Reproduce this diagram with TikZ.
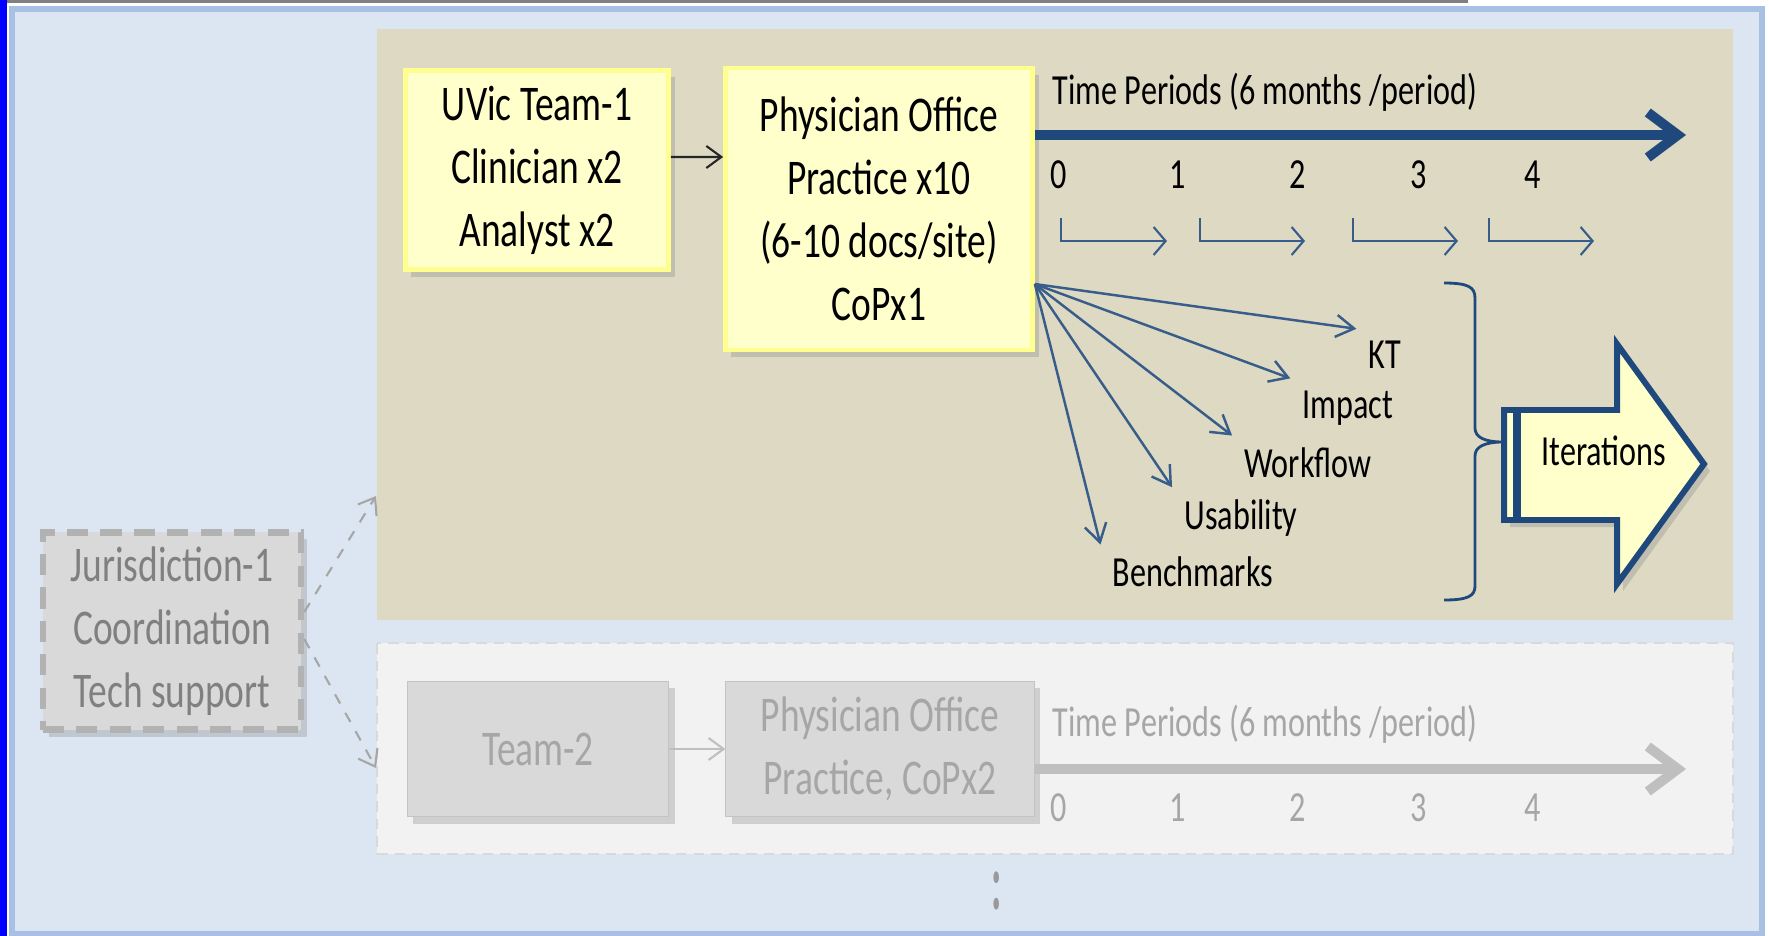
\documentclass[tikz,border=0pt]{standalone}
\usepackage{fontspec}
\setmainfont{Carlito}[FakeStretch=0.75]
\usetikzlibrary{shadows,arrows.meta}

\definecolor{panelblue}{HTML}{DCE6F2}
\definecolor{panelline}{HTML}{A7C0E3}
\definecolor{beige}{HTML}{DDD9C3}
\definecolor{paleyellow}{HTML}{FFFFCC}
\definecolor{yellowline}{HTML}{FFFF8F}
\definecolor{timeblue}{HTML}{1F497D}
\definecolor{fanblue}{HTML}{385D8A}
\definecolor{boxgray}{HTML}{D9D9D9}
\definecolor{textgray}{HTML}{A6A6A6}
\definecolor{lightpanel}{HTML}{F2F2F2}
\definecolor{framegray}{HTML}{808080}

\newcommand{\bigtxt}{\fontsize{14.2}{17.9}\selectfont}
\newcommand{\smalltxt}{\fontsize{12.2}{14.6}\selectfont}

\tikzset{
  boxshadow/.style={drop shadow={shadow xshift=0.06cm,shadow yshift=-0.07cm,opacity=0.3}},
  teambox/.style={draw=yellowline,line width=1.3pt,fill=paleyellow,align=center,font=\bigtxt,boxshadow},
  greybox/.style={draw=boxgray!90!black,line width=0.3pt,fill=boxgray,text=textgray,align=center,font=\bigtxt,boxshadow},
  lbl/.style={font=\smalltxt},
  timeline/.style={-{Straight Barb[length=0.3cm,width=0.45cm]},line width=2.8pt},
  hook/.style={-{Straight Barb[length=0.12cm,width=0.28cm]},fanblue,line width=0.6pt},
  fan/.style={-{Straight Barb[length=0.18cm,width=0.22cm]},fanblue,line width=0.7pt},
  thin/.style={-{Straight Barb[length=0.15cm,width=0.22cm]},line width=0.6pt}
}

\begin{document}
\begin{tikzpicture}[x=0.01cm,y=-0.01cm]
\useasboundingbox (0,0) rectangle (1769,936);
\fill[white] (0,0) rectangle (1769,936);
\fill[framegray] (0,0) rectangle (1468,3);
\draw[panelline,line width=1.5pt,fill=panelblue] (12,9) rectangle (1762,934);
\fill[blue] (0,0) rectangle (7,936);
\fill[beige] (377,29) rectangle (1733,620);
\draw[boxgray,line width=0.6pt,dash pattern=on 3pt off 2pt,fill=lightpanel] (377,643) rectangle (1733,854);

\node[greybox,draw=gray!60,line width=1.8pt,dash pattern=on 6pt off 3.5pt,text=gray,minimum width=2.58cm,minimum height=1.97cm] (jur) at (172,631) {Jurisdiction-1\\Coordination\\Tech support};
\coordinate (site1) at (376,496);
\coordinate (site2) at (376,768);
\draw[thin,textgray,dashed] ([yshift=0.19cm]jur.east) -- (site1);
\draw[thin,textgray,dashed] ([yshift=-0.08cm]jur.east) -- (site2);

\node[teambox,minimum width=2.63cm,minimum height=1.99cm] (uvic) at (537,170) {UVic Team-1\\Clinician x2\\Analyst x2};
\node[teambox,minimum width=3.07cm,minimum height=2.82cm] (phys) at (879,209) {Physician Office\\Practice x10\\(6-10 docs/site)\\CoPx1};
\draw[thin,black!85] ([yshift=0.13cm]uvic.east) -- ([yshift=0.52cm]phys.west);

\node[lbl] (tp) at (1265,92) {Time Periods (6 months /period)};
\coordinate (t1) at (1686,135);
\draw[timeline,timeblue] (phys.east |- t1) -- (t1);
\node[lbl] (n0) at (1059,175) {0};
\node[lbl] (n1) at (1178,175) {1};
\node[lbl] (n2) at (1298,175) {2};
\node[lbl] (n3) at (1419,175) {3};
\node[lbl] (n4) at (1533,175) {4};
\draw[hook] (1061,218) -- (1061,241) -- (1167,241);
\draw[hook] (1200,218) -- (1200,241) -- (1305,241);
\draw[hook] (1353,218) -- (1353,241) -- (1458,241);
\draw[hook] (1489,218) -- (1489,241) -- (1594,241);

\node[lbl] (kt) at (1385,355) {KT};
\node[lbl] (impact) at (1348,408) {Impact};
\node[lbl] (workflow) at (1308,463) {Workflow};
\node[lbl] (usability) at (1241,518) {Usability};
\node[lbl] (bench) at (1193,572) {Benchmarks};
\draw[fan] ([yshift=-0.75cm]phys.east) -- (kt.north west);
\draw[fan] ([yshift=-0.75cm]phys.east) -- (impact.north west);
\draw[fan] ([yshift=-0.75cm]phys.east) -- (workflow.north west);
\draw[fan] ([yshift=-0.75cm]phys.east) -- (usability.north west);
\draw[fan] ([yshift=-0.75cm]phys.east) -- (bench.north west);

% brace
\draw[timeblue,line width=0.8pt] (1444,283) .. controls (1468,283) and (1475,287) .. (1475,298) -- (1475,428)
  .. controls (1475,437) and (1484,442) .. (1503,442) .. controls (1484,442) and (1475,447) .. (1475,456)
  -- (1475,586) .. controls (1475,596) and (1468,600) .. (1444,600);
\draw[timeblue,line width=1.7pt,fill=paleyellow,boxshadow] (1504,410) -- (1617,410) -- (1617,344) -- (1704,464) -- (1617,584) -- (1617,520) -- (1504,520) -- cycle;
\draw[timeblue,line width=2.3pt] (1517,410) -- (1517,520);
\node[lbl] (iter) at (1604,451) {Iterations};

\node[greybox,minimum width=2.61cm,minimum height=1.35cm] (team2) at (538,749) {Team-2};
\node[greybox,minimum width=3.08cm,minimum height=1.35cm] (phys2) at (880,749) {Physician Office\\Practice, CoPx2};
\draw[thin,gray!50] (team2) -- (phys2);
\node[lbl,text=textgray] (tp2) at (1265,724) {Time Periods (6 months /period)};
\coordinate (t2) at (1686,769);
\draw[timeline,gray!50] (phys2.east |- t2) -- (t2);
\node[lbl,text=textgray] (m0) at (1059,808) {0};
\node[lbl,text=textgray] (m1) at (1178,808) {1};
\node[lbl,text=textgray] (m2) at (1298,808) {2};
\node[lbl,text=textgray] (m3) at (1419,808) {3};
\node[lbl,text=textgray] (m4) at (1533,808) {4};
\node[text=gray!80,font=\bigtxt\bfseries] (more) at (997,891) {\scalebox{1}[1.6]{:}};
\end{tikzpicture}
\end{document}
